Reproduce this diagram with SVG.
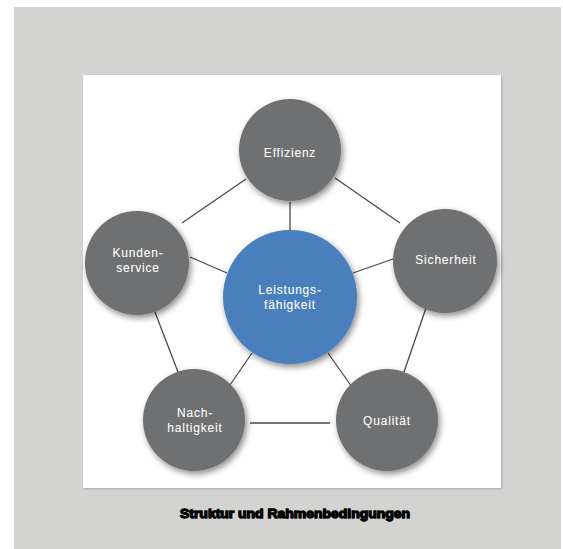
<svg xmlns="http://www.w3.org/2000/svg" width="563" height="549" viewBox="0 0 563 549">
  <defs>
    <filter id="sh" x="-30%" y="-30%" width="170%" height="170%">
      <feDropShadow dx="2" dy="3" stdDeviation="3" flood-color="#000" flood-opacity="0.45"/>
    </filter>
    <filter id="ps" x="-5%" y="-5%" width="115%" height="115%">
      <feDropShadow dx="1" dy="1" stdDeviation="1" flood-color="#000" flood-opacity="0.2"/>
    </filter>
  </defs>
  <style>
    .c { fill: #6e6f71; filter: url(#sh); }
    .m { fill: #4a7fbd; filter: url(#sh); }
    .t { font-family: "Liberation Sans", Arial, sans-serif; font-size: 12px; fill: #ffffff; stroke: #ffffff; stroke-width: 0.08; text-anchor: middle; letter-spacing: 0.8px; }
    .e { stroke: #4a4a4a; stroke-width: 1.3; fill: none; }
    .cap { font-family: "Liberation Sans", Arial, sans-serif; font-size: 13px; font-weight: bold; fill: #000; stroke: #000; stroke-width: 1.3; stroke-linejoin: round; text-anchor: middle; }
  </style>
  <rect x="0" y="0" width="563" height="549" fill="#ffffff"/>
  <rect x="14" y="7" width="547" height="542" fill="#d3d3d1"/>
  <rect x="83" y="75" width="418" height="413" fill="#ffffff" filter="url(#ps)"/>

  <g id="connectors">
    <line class="e" x1="182" y1="223" x2="246" y2="179"/>
    <line class="e" x1="335" y1="178" x2="400" y2="223"/>
    <line class="e" x1="290" y1="202" x2="290" y2="232"/>
    <line class="e" x1="190" y1="257" x2="227" y2="273"/>
    <line class="e" x1="393" y1="259" x2="353" y2="273"/>
    <line class="e" x1="153" y1="307" x2="178" y2="372"/>
    <line class="e" x1="426" y1="308" x2="404" y2="372"/>
    <line class="e" x1="252" y1="353" x2="230" y2="385"/>
    <line class="e" x1="328" y1="353" x2="352" y2="387"/>
    <line class="e" x1="250" y1="423" x2="330" y2="423"/>
  </g>

  <g id="effizienz">
    <circle class="c" cx="290" cy="150" r="51"/>
    <text class="t" x="290" y="157">Effizienz</text>
  </g>
  <g id="kundenservice">
    <circle class="c" cx="137" cy="263" r="52"/>
    <text class="t" x="138" y="257">Kunden-</text>
    <text class="t" x="138" y="272">service</text>
  </g>
  <g id="sicherheit">
    <circle class="c" cx="445" cy="261" r="52"/>
    <text class="t" x="446" y="264">Sicherheit</text>
  </g>
  <g id="leistungsfaehigkeit">
    <circle class="m" cx="290" cy="297" r="67"/>
    <text class="t" x="290" y="294">Leistungs-</text>
    <text class="t" x="290" y="309">fähigkeit</text>
  </g>
  <g id="nachhaltigkeit">
    <circle class="c" cx="194" cy="420" r="51"/>
    <text class="t" x="195" y="417">Nach-</text>
    <text class="t" x="195" y="432">haltigkeit</text>
  </g>
  <g id="qualitaet">
    <circle class="c" cx="387" cy="420" r="51"/>
    <text class="t" x="387" y="425">Qualität</text>
  </g>

  <text class="cap" x="295" y="518" textLength="230" lengthAdjust="spacingAndGlyphs">Struktur und Rahmenbedingungen</text>
</svg>
